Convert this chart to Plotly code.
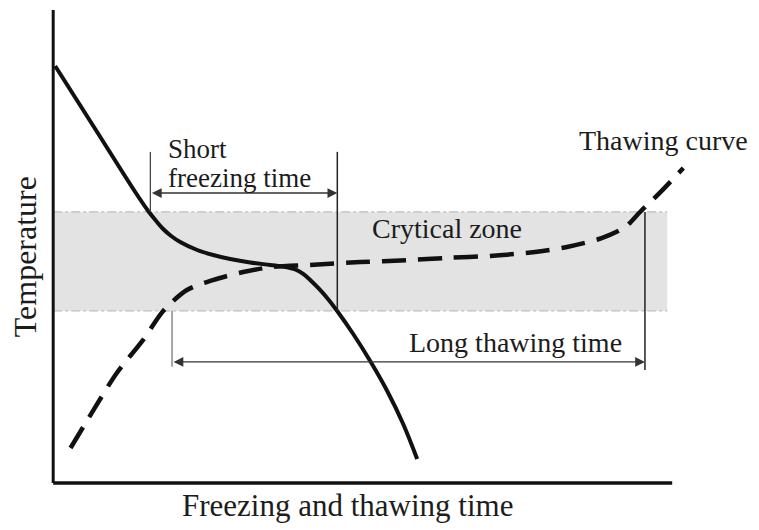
import plotly.graph_objects as go

# schematic units: time 0-100, temperature 0-100
freeze_x = [0.32, 6.79, 13.25, 15.35, 16.64, 17.77, 19.06, 20.52, 23.26, 25.85, 28.59, 31.83, 35.06,
            37.48, 39.10, 40.39, 41.52, 42.81, 44.26, 45.88, 48.47, 51.21, 53.96, 56.54, 58.80]
freeze_y = [88.16, 74.84, 61.52, 57.51, 55.39, 53.70, 52.22, 50.95, 49.26, 48.20, 47.36, 46.62, 46.09,
            45.67, 45.14, 44.19, 42.92, 41.23, 39.11, 36.36, 31.50, 25.79, 19.45, 12.47, 5.07]

thaw_x = [2.8, 6.5, 10.3, 14.5, 17.8, 21.6, 25.8, 30.7, 35.5, 41.5, 49.6, 57.2, 63.7, 70.6, 77.5, 83.0, 88.7, 92.4, 94.8, 98.1, 101.8]
thaw_y = [7.4, 15.4, 23.3, 30.2, 36.4, 40.8, 42.9, 44.6, 45.7, 46.1, 46.7, 47.1, 47.6, 48.0, 48.8, 49.9, 51.8, 54.1, 57.3, 61.5, 66.6]

zone_low, zone_high = 36.4, 57.3
zone_end = 99.2

short_start, short_end = 15.7, 45.9
short_top, short_arrow_y = 70.0, 61.3
long_start, long_end = 19.2, 95.6
long_bottom, long_arrow_y = 23.9, 25.6

FONT = "Liberation Serif, Times New Roman, serif"
INK = "#111111"
TXT = "#1c1c1c"

# axis ranges chosen so that the page's 8px body margin is compensated
X_RANGE = [-1, 113.7]
Y_RANGE = [-3.17, 100.42]


def paper_x(v):
    return (v - X_RANGE[0]) / (X_RANGE[1] - X_RANGE[0])


def paper_y(v):
    return (v - Y_RANGE[0]) / (Y_RANGE[1] - Y_RANGE[0])


fig = go.Figure()

fig.add_trace(go.Scatter(
    x=freeze_x, y=freeze_y, mode="lines",
    line=dict(color=INK, width=4, shape="spline", smoothing=1.0),
    hoverinfo="skip"
))
fig.add_trace(go.Scatter(
    x=thaw_x, y=thaw_y, mode="lines",
    line=dict(color=INK, width=4.5, shape="spline", smoothing=0.8, dash="24px,12px"),
    hoverinfo="skip"
))

shapes = [
    # critical zone band
    dict(type="rect", x0=0, x1=zone_end, y0=zone_low, y1=zone_high,
         fillcolor="#e3e3e3", line_width=0, layer="below"),
    dict(type="line", x0=0, x1=zone_end, y0=zone_high, y1=zone_high,
         line=dict(color="#bdbdbd", width=1.2, dash="dashdot"), layer="below"),
    dict(type="line", x0=0, x1=zone_end, y0=zone_low, y1=zone_low,
         line=dict(color="#bdbdbd", width=1.2, dash="dashdot"), layer="below"),
    # axes
    dict(type="line", x0=0, x1=0, y0=0, y1=100, line=dict(color=INK, width=3)),
    dict(type="line", x0=0, x1=100, y0=0, y1=0, line=dict(color=INK, width=3.5)),
    # short freezing time markers
    dict(type="line", x0=short_start, x1=short_start, y0=short_top, y1=zone_high,
         line=dict(color="#444444", width=1.3)),
    dict(type="line", x0=short_end, x1=short_end, y0=short_top, y1=zone_low,
         line=dict(color="#222222", width=1.5)),
    # long thawing time markers
    dict(type="line", x0=long_start, x1=long_start, y0=zone_low, y1=long_arrow_y - 1,
         line=dict(color="#8a8a8a", width=1.5)),
    dict(type="line", x0=long_end, x1=long_end, y0=zone_high, y1=long_bottom,
         line=dict(color="#222222", width=1.5)),
]

annotations = [
    dict(x=short_end, y=short_arrow_y, ax=short_start, ay=short_arrow_y,
         xref="x", yref="y", axref="x", ayref="y", text="", showarrow=True,
         arrowhead=2, arrowside="end+start", arrowsize=1.4, arrowwidth=1.4,
         arrowcolor="#333333", standoff=0, startstandoff=0),
    dict(x=long_end, y=long_arrow_y, ax=long_start, ay=long_arrow_y,
         xref="x", yref="y", axref="x", ayref="y", text="", showarrow=True,
         arrowhead=2, arrowside="end+start", arrowsize=1.4, arrowwidth=1.4,
         arrowcolor="#333333", standoff=0, startstandoff=0),
    dict(x=18.4, y=70.6, xref="x", yref="y", xanchor="left", yanchor="middle",
         text="Short", showarrow=False, borderpad=0,
         font=dict(family=FONT, size=27, color=TXT)),
    dict(x=18.4, y=64.4, xref="x", yref="y", xanchor="left", yanchor="middle",
         text="freezing time", showarrow=False, borderpad=0,
         font=dict(family=FONT, size=27, color=TXT)),
    dict(x=51.1, y=53.9, xref="x", yref="y", xanchor="left", yanchor="middle",
         text="Crytical zone", showarrow=False,
         font=dict(family=FONT, size=28, color=TXT)),
    dict(x=84.7, y=72.5, xref="x", yref="y", xanchor="left", yanchor="middle",
         text="Thawing curve", showarrow=False,
         font=dict(family=FONT, size=28, color=TXT)),
    dict(x=57.2, y=29.6, xref="x", yref="y", xanchor="left", yanchor="middle",
         text="Long thawing time", showarrow=False,
         font=dict(family=FONT, size=28, color=TXT)),
    dict(x=paper_x(47.5), y=paper_y(-4.7), xref="paper", yref="paper",
         xanchor="center", yanchor="middle",
         text="Freezing and thawing time", showarrow=False,
         font=dict(family=FONT, size=31, color=TXT)),
    dict(x=paper_x(-4.5), y=paper_y(47.8), xref="paper", yref="paper",
         xanchor="center", yanchor="middle",
         text="Temperature", textangle=-90, showarrow=False,
         font=dict(family=FONT, size=32, color=TXT)),
]

fig.update_layout(
    width=759, height=530,
    margin=dict(l=39, r=10, t=0, b=40),
    paper_bgcolor="white", plot_bgcolor="white",
    showlegend=False,
    shapes=shapes,
    annotations=annotations,
    xaxis=dict(range=X_RANGE, visible=False, fixedrange=True),
    yaxis=dict(range=Y_RANGE, visible=False, fixedrange=True),
)

fig.write_html("out.html")
